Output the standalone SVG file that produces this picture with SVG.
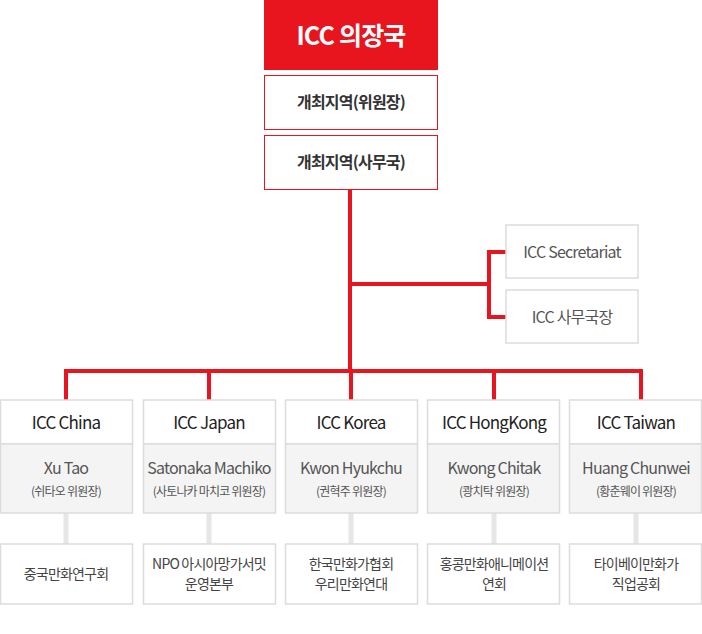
<svg xmlns="http://www.w3.org/2000/svg" width="702" height="634" viewBox="0 0 702 634">
<style>
text{font-family:"Noto Sans CJK KR","Noto Sans",sans-serif;text-anchor:middle;letter-spacing:-0.8px}
.r{fill:none;stroke:#e8141e;stroke-width:4}
.g{fill:#fff;stroke:#dcdcdc;stroke-width:1.5}
.gg{fill:#f4f4f4;stroke:#dcdcdc;stroke-width:1.5}
.h{font-size:17px;fill:#222}
.n{font-size:16px;fill:#555}
.s{font-size:12px;fill:#555}
.b{font-size:14px;fill:#444}
</style>
<g id="connectors">
<path class="r" d="M350 189V371M350 284H489M506 252H489V317H506M66 400V371H641V400M209 371V400M351 371V400M494 371V400"/>
<path d="M66 513V544M209 513V544M351 513V544M494 513V544M636 513V544" stroke="#e6e6e6" stroke-width="5"/>
</g>
<g id="top"><rect x="264" y="0" width="174" height="70" fill="#e8141e"/><text x="351" y="45" font-size="25" font-weight="bold" fill="#fff">ICC 의장국</text></g>
<g id="chair"><rect x="264.5" y="75.5" width="173" height="54" fill="#fff" stroke="#e8141e"/><text x="351" y="108" font-size="16" font-weight="bold" fill="#333">개최지역(위원장)</text></g>
<g id="office"><rect x="264.5" y="135.5" width="173" height="54" fill="#fff" stroke="#e8141e"/><text x="351" y="168" font-size="16" font-weight="bold" fill="#333">개최지역(사무국)</text></g>
<g id="sec"><rect class="g" x="506" y="225" width="132" height="53"/><text class="n" x="572" y="258">ICC Secretariat</text></g>
<g id="secgen"><rect class="g" x="506" y="290" width="132" height="53"/><text class="n" x="572" y="323">ICC 사무국장</text></g>
<g id="china"><rect class="g" x="0.5" y="400" width="132" height="44"/><rect class="gg" x="0.5" y="444" width="132" height="69"/><text class="h" x="66" y="429">ICC China</text><text class="n" x="66" y="474">Xu Tao</text><text class="s" x="66" y="496">(쉬타오 위원장)</text><rect class="g" x="0.5" y="544" width="132" height="60"/><text class="b" x="66" y="579">중국만화연구회</text></g>
<g id="japan"><rect class="g" x="143.5" y="400" width="132" height="44"/><rect class="gg" x="143.5" y="444" width="132" height="69"/><text class="h" x="209" y="429">ICC Japan</text><text class="n" x="209" y="474" font-size="14">Satonaka Machiko</text><text class="s" x="209" y="496">(사토나카 마치코 위원장)</text><rect class="g" x="143.5" y="544" width="132" height="60"/><text class="b" x="209" y="569">NPO 아시아망가서밋</text><text class="b" x="209" y="589">운영본부</text></g>
<g id="korea"><rect class="g" x="285.5" y="400" width="132" height="44"/><rect class="gg" x="285.5" y="444" width="132" height="69"/><text class="h" x="351" y="429">ICC Korea</text><text class="n" x="351" y="474">Kwon Hyukchu</text><text class="s" x="351" y="496">(권혁주 위원장)</text><rect class="g" x="285.5" y="544" width="132" height="60"/><text class="b" x="351" y="569">한국만화가협회</text><text class="b" x="351" y="589">우리만화연대</text></g>
<g id="hk"><rect class="g" x="427.5" y="400" width="132" height="44"/><rect class="gg" x="427.5" y="444" width="132" height="69"/><text class="h" x="494" y="429">ICC HongKong</text><text class="n" x="494" y="474">Kwong Chitak</text><text class="s" x="494" y="496">(쾅치탁 위원장)</text><rect class="g" x="427.5" y="544" width="132" height="60"/><text class="b" x="494" y="569">홍콩만화애니메이션</text><text class="b" x="494" y="589">연회</text></g>
<g id="taiwan"><rect class="g" x="569.5" y="400" width="132" height="44"/><rect class="gg" x="569.5" y="444" width="132" height="69"/><text class="h" x="636" y="429">ICC Taiwan</text><text class="n" x="636" y="474">Huang Chunwei</text><text class="s" x="636" y="496">(황춘웨이 위원장)</text><rect class="g" x="569.5" y="544" width="132" height="60"/><text class="b" x="636" y="569">타이베이만화가</text><text class="b" x="636" y="589">직업공회</text></g>
</svg>
